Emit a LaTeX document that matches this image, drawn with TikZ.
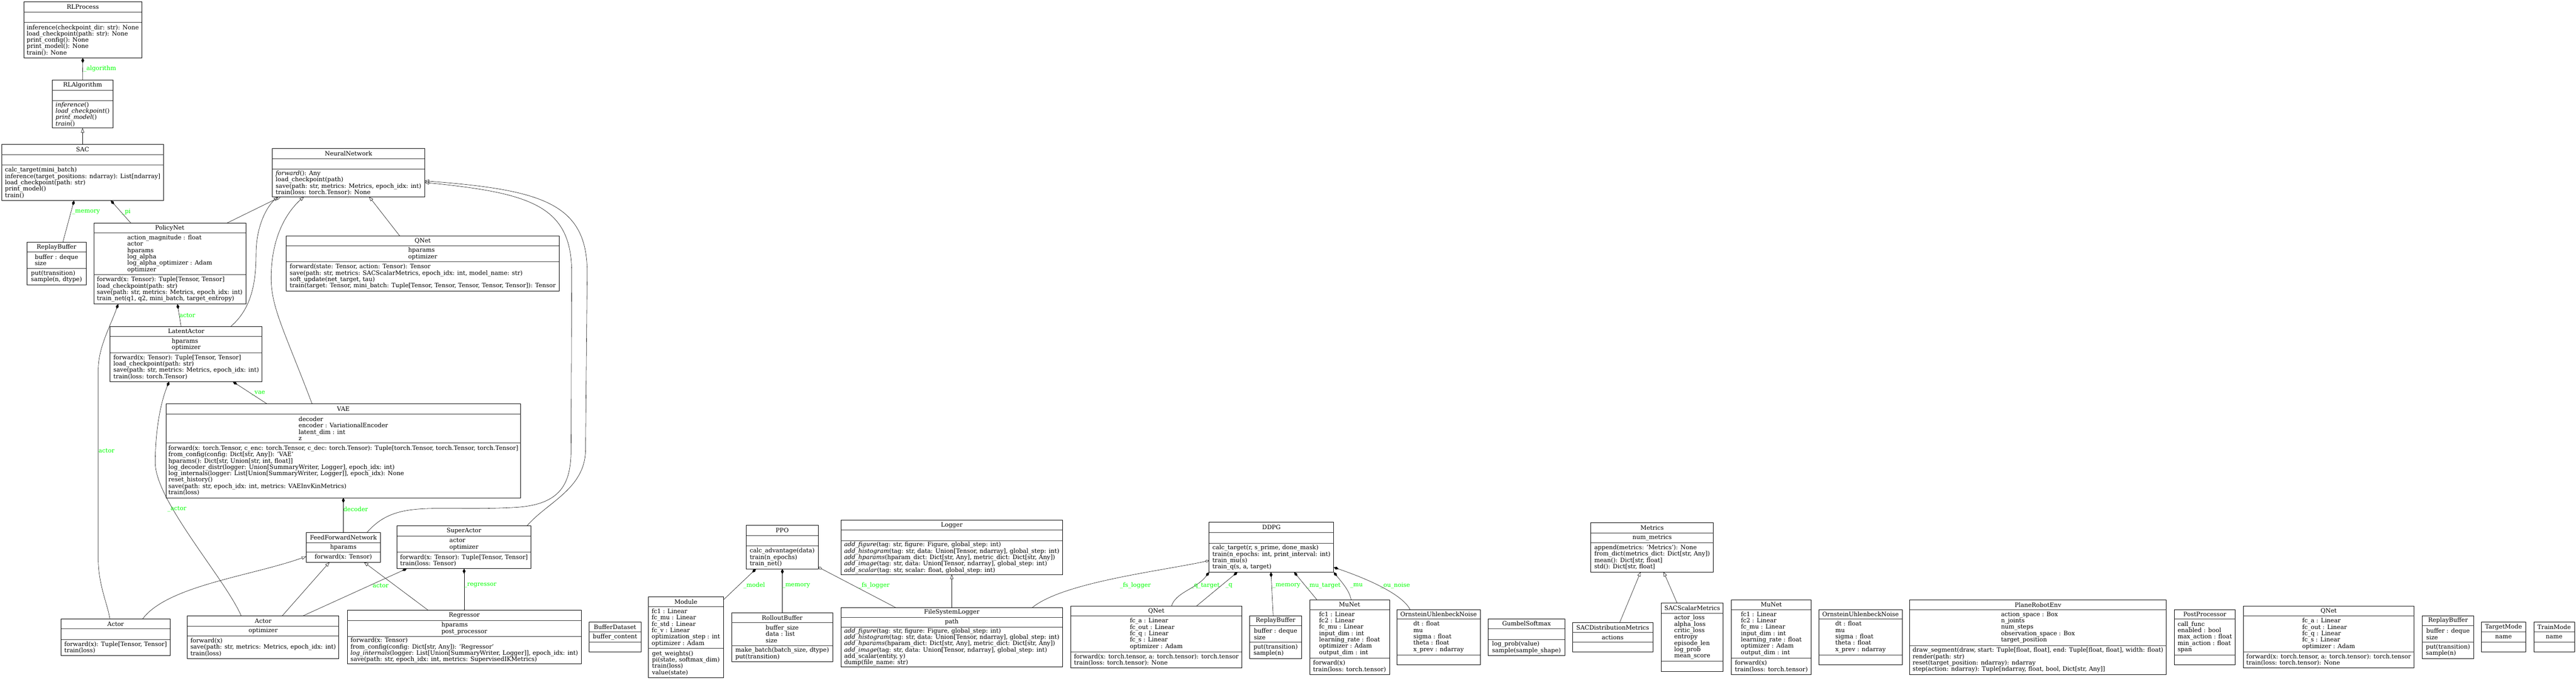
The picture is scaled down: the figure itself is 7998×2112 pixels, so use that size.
\documentclass[tikz,border=0pt]{standalone}
\usepackage{fontspec}
\setmainfont{DejaVu Serif}
\usetikzlibrary{arrows.meta,calc}
\definecolor{labelgreen}{RGB}{0,255,0}
\newcommand\umlfont{\fontsize{18.6}{19.7}\selectfont}
\tikzset{
  classbox/.style={draw, line width=1.3pt, inner sep=0pt, outer sep=0pt},
  sepline/.style={line width=1.3pt, draw=black!80},
  titletext/.style={font=\umlfont, inner sep=0pt, align=center},
  membertext/.style={font=\umlfont, inner sep=0pt, align=left},
  conn/.style={line width=0.9pt},
  inherit/.style={conn, -{Triangle[open, width=10pt, length=14pt, line width=0.9pt]}},
  compose/.style={conn, {Diamond[width=9pt, length=16pt]}-},
  aggreg/.style={conn, {Diamond[open, width=8pt, length=14pt, line width=0.9pt]}-},
  elabel/.style={font=\umlfont, text=labelgreen, inner sep=0pt, anchor=west},
}
% name, x1, y1, x2, y2, title-bottom, attrs-bottom, title, attrs
\newcommand\umlbox[9]{%
  \pgfmathsetmacro\ux{(#2+#4)/2}%
  \pgfmathsetmacro\uy{(#3+#5)/2}%
  \pgfmathsetmacro\uw{#4-#2}%
  \pgfmathsetmacro\uh{#5-#3}%
  \node[classbox, minimum width=\uw pt, minimum height=\uh pt] (#1) at (\ux,\uy) {};
  \draw[sepline] (#2,#6) -- (#4,#6) (#2,#7) -- (#4,#7);
  \pgfmathsetmacro\ut{(#3+#6)/2}%
  \node[titletext] (#1-title) at (\ux,\ut) {#8};
  \pgfmathsetmacro\ua{(#6+#7)/2}%
  \node[membertext] (#1-attrs) at (\ux,\ua) {#9};
  \pgfmathsetmacro\um{(#7+#5)/2}%
  \coordinate (#1-m) at (\ux,\um);
}
\begin{document}
\begin{tikzpicture}[x=1pt, y=-1pt]
\path[fill=white] (0,0) rectangle (7998,2112);
\useasboundingbox (0,0) rectangle (7998,2112);

% ---------------- left cluster ----------------
\umlbox{rlprocess}{74}{6}{440}{180}{37}{70}{RLProcess}{}
\node[membertext] (rlprocess-methods) at (rlprocess-m) {inference(checkpoint\_dir: str): None\\load\_checkpoint(path: str): None\\print\_config(): None\\print\_model(): None\\train(): None};

\umlbox{rlalgorithm}{162}{249}{351}{398}{280}{313}{RLAlgorithm}{}
\node[membertext] (rlalgorithm-methods) at (rlalgorithm-m) {\textit{inference}()\\\textit{load\_checkpoint}()\\\textit{print\_model}()\\\textit{train}()};

\umlbox{sac}{5}{449}{508}{623}{480}{513}{SAC}{}
\node[membertext] (sac-methods) at (sac-m) {calc\_target(mini\_batch)\\inference(target\_positions: ndarray): List[ndarray]\\load\_checkpoint(path: str)\\print\_model()\\train()};

\umlbox{rb1}{84}{753}{267}{885}{783}{834}{ReplayBuffer}{buffer : deque\\size}
\node[membertext] (rb1-methods) at (rb1-m) {put(transition)\\sample(n, dtype)};

\umlbox{policynet}{291}{693}{763}{945}{724}{854}{PolicyNet}{action\_magnitude : float\\actor\\hparams\\log\_alpha\\log\_alpha\_optimizer : Adam\\optimizer}
\node[membertext] (policynet-methods) at (policynet-m) {forward(x: Tensor): Tuple[Tensor, Tensor]\\load\_checkpoint(path: str)\\save(path: str, metrics: Metrics, epoch\_idx: int)\\train\_net(q1, q2, mini\_batch, target\_entropy)};

\umlbox{nn}{846}{462}{1318}{611}{493}{526}{NeuralNetwork}{}
\node[membertext] (nn-methods) at (nn-m) {\textit{forward}(): Any\\load\_checkpoint(path)\\save(path: str, metrics: Metrics, epoch\_idx: int)\\train(loss: torch.Tensor): None};

\umlbox{qnet1}{889}{733}{1736}{905}{763}{814}{QNet}{hparams\\optimizer}
\node[membertext] (qnet1-methods) at (qnet1-m) {forward(state: Tensor, action: Tensor): Tensor\\save(path: str, metrics: SACScalarMetrics, epoch\_idx: int, model\_name: str)\\soft\_update(net\_target, tau)\\train(target: Tensor, mini\_batch: Tuple[Tensor, Tensor, Tensor, Tensor, Tensor]): Tensor};

\umlbox{latentactor}{342}{1014}{814}{1186}{1045}{1096}{LatentActor}{hparams\\optimizer}
\node[membertext] (latentactor-methods) at (latentactor-m) {forward(x: Tensor): Tuple[Tensor, Tensor]\\load\_checkpoint(path: str)\\save(path: str, metrics: Metrics, epoch\_idx: int)\\train(loss: torch.Tensor)};

\umlbox{vae}{515}{1255}{1617}{1547}{1287}{1377}{VAE}{decoder\\encoder : VariationalEncoder\\latent\_dim : int\\z}
\node[membertext] (vae-methods) at (vae-m) {forward(x: torch.Tensor, c\_enc: torch.Tensor, c\_dec: torch.Tensor): Tuple[torch.Tensor, torch.Tensor, torch.Tensor]\\from\_config(config: Dict[str, Any]): 'VAE'\\hparams(): Dict[str, Union[str, int, float]]\\log\_decoder\_distr(logger: Union[SummaryWriter, Logger], epoch\_idx: int)\\log\_internals(logger: List[Union[SummaryWriter, Logger]], epoch\_idx): None\\reset\_history()\\save(path: str, epoch\_idx: int, metrics: VAEInvKinMetrics)\\train(loss)};

\umlbox{ffn}{951}{1655}{1181}{1747}{1686}{1716}{FeedForwardNetwork}{hparams}
\node[membertext] (ffn-methods) at (ffn-m) {forward(x: Tensor)};

\umlbox{superactor}{1233}{1634}{1648}{1767}{1666}{1716}{SuperActor}{actor\\optimizer}
\node[membertext] (superactor-methods) at (superactor-m) {forward(x: Tensor): Tuple[Tensor, Tensor]\\train(loss: Tensor)};

\umlbox{actorl}{190}{1923}{528}{2037}{1954}{1987}{Actor}{}
\node[membertext] (actorl-methods) at (actorl-m) {forward(x): Tuple[Tensor, Tensor]\\train(loss)};

\umlbox{actorm}{582}{1914}{1052}{2046}{1945}{1976}{Actor}{optimizer}
\node[membertext] (actorm-methods) at (actorm-m) {forward(x)\\save(path: str, metrics: Metrics, epoch\_idx: int)\\train(loss)};

\umlbox{regressor}{1078}{1896}{1805}{2063}{1928}{1978}{Regressor}{hparams\\post\_processor}
\node[membertext] (regressor-methods) at (regressor-m) {forward(x: Tensor)\\from\_config(config: Dict[str, Any]): 'Regressor'\\\textit{log\_internals}(logger: List[Union[SummaryWriter, Logger]], epoch\_idx: int)\\save(path: str, epoch\_idx: int, metrics: SupervisedIKMetrics)};

\umlbox{bufferdataset}{1829}{1933}{1990}{2026}{1964}{1996}{BufferDataset}{buffer\_content}
\node[membertext] (bufferdataset-methods) at (bufferdataset-m) {};

% ---------------- right part ----------------
\umlbox{ppo}{2317}{1633}{2540}{1768}{1664}{1697}{PPO}{}
\node[membertext] (ppo-methods) at (ppo-m) {calc\_advantage(data)\\train(n\_epochs)\\train\_net()};

\umlbox{logger}{2611}{1617}{3299}{1785}{1647}{1681}{Logger}{}
\node[membertext] (logger-methods) at (logger-m) {\textit{add\_figure}(tag: str, figure: Figure, global\_step: int)\\\textit{add\_histogram}(tag: str, data: Union[Tensor, ndarray], global\_step: int)\\\textit{add\_hparams}(hparam\_dict: Dict[str, Any], metric\_dict: Dict[str, Any])\\\textit{add\_image}(tag: str, data: Union[Tensor, ndarray], global\_step: int)\\\textit{add\_scalar}(tag: str, scalar: float, global\_step: int)};

\umlbox{ddpg}{3754}{1623}{4141}{1778}{1654}{1688}{DDPG}{}
\node[membertext] (ddpg-methods) at (ddpg-m) {calc\_target(r, s\_prime, done\_mask)\\train(n\_epochs: int, print\_interval: int)\\train\_mu(s)\\train\_q(s, a, target)};

\umlbox{module}{2013}{1854}{2246}{2106}{1885}{2015}{Module}{fc1 : Linear\\fc\_mu : Linear\\fc\_std : Linear\\fc\_v : Linear\\optimization\_step : int\\optimizer : Adam}
\node[membertext] (module-methods) at (module-m) {get\_weights()\\pi(state, softmax\_dim)\\train(loss)\\value(state)};

\umlbox{rolloutbuffer}{2272}{1904}{2585}{2056}{1934}{2006}{RolloutBuffer}{buffer\_size\\data : list\\size}
\node[membertext] (rolloutbuffer-methods) at (rolloutbuffer-m) {make\_batch(batch\_size, dtype)\\put(transition)};

\umlbox{fslogger}{2611}{1888}{3299}{2072}{1918}{1949}{FileSystemLogger}{path}
\node[membertext] (fslogger-methods) at (fslogger-m) {\textit{add\_figure}(tag: str, figure: Figure, global\_step: int)\\\textit{add\_histogram}(tag: str, data: Union[Tensor, ndarray], global\_step: int)\\\textit{add\_hparams}(hparam\_dict: Dict[str, Any], metric\_dict: Dict[str, Any])\\\textit{add\_image}(tag: str, data: Union[Tensor, ndarray], global\_step: int)\\add\_scalar(entity, y)\\dump(file\_name: str)};

\umlbox{qnet2}{3325}{1884}{3855}{2076}{1914}{2025}{QNet}{fc\_a : Linear\\fc\_out : Linear\\fc\_q : Linear\\fc\_s : Linear\\optimizer : Adam}
\node[membertext] (qnet2-methods) at (qnet2-m) {forward(x: torch.tensor, a: torch.tensor): torch.tensor\\train(loss: torch.tensor): None};

\umlbox{rb2}{3880}{1913}{4041}{2046}{1944}{1996}{ReplayBuffer}{buffer : deque\\size}
\node[membertext] (rb2-methods) at (rb2-m) {put(transition)\\sample(n)};

\umlbox{munet1}{4066}{1864}{4314}{2096}{1894}{2045}{MuNet}{fc1 : Linear\\fc2 : Linear\\fc\_mu : Linear\\input\_dim : int\\learning\_rate : float\\optimizer : Adam\\output\_dim : int}
\node[membertext] (munet1-methods) at (munet1-m) {forward(x)\\train(loss: torch.tensor)};

\umlbox{ou1}{4337}{1894}{4596}{2066}{1924}{2035}{OrnsteinUhlenbeckNoise}{dt : float\\mu\\sigma : float\\theta : float\\x\_prev : ndarray}
\node[membertext] (ou1-methods) at (ou1-m) {};

\umlbox{gumbel}{4621}{1923}{4858}{2037}{1953}{1987}{GumbelSoftmax}{}
\node[membertext] (gumbel-methods) at (gumbel-m) {log\_prob(value)\\sample(sample\_shape)};

\umlbox{sdm}{4882}{1934}{5132}{2026}{1965}{1995}{SACDistributionMetrics}{actions}
\node[membertext] (sdm-methods) at (sdm-m) {};

\umlbox{metrics}{4939}{1625}{5320}{1777}{1656}{1686}{Metrics}{num\_metrics}
\node[membertext] (metrics-methods) at (metrics-m) {append(metrics: 'Metrics'): None\\from\_dict(metrics\_dict: Dict[str, Any])\\mean(): Dict[str, float]\\std(): Dict[str, float]};

\umlbox{ssm}{5158}{1874}{5350}{2086}{1905}{2055}{SACScalarMetrics}{actor\_loss\\alpha\_loss\\critic\_loss\\entropy\\episode\_len\\log\_prob\\mean\_score}
\node[membertext] (ssm-methods) at (ssm-m) {};

\umlbox{munet2}{5376}{1864}{5623}{2096}{1894}{2045}{MuNet}{fc1 : Linear\\fc2 : Linear\\fc\_mu : Linear\\input\_dim : int\\learning\_rate : float\\optimizer : Adam\\output\_dim : int}
\node[membertext] (munet2-methods) at (munet2-m) {forward(x)\\train(loss: torch.tensor)};

\umlbox{ou2}{5647}{1894}{5906}{2066}{1924}{2035}{OrnsteinUhlenbeckNoise}{dt : float\\mu\\sigma : float\\theta : float\\x\_prev : ndarray}
\node[membertext] (ou2-methods) at (ou2-m) {};

\umlbox{planerobotenv}{5929}{1864}{6726}{2096}{1894}{2006}{PlaneRobotEnv}{action\_space : Box\\n\_joints\\num\_steps\\observation\_space : Box\\target\_position}
\node[membertext] (planerobotenv-methods) at (planerobotenv-m) {draw\_segment(draw, start: Tuple[float, float], end: Tuple[float, float], width: float)\\render(path: str)\\reset(target\_position: ndarray): ndarray\\step(action: ndarray): Tuple[ndarray, float, bool, Dict[str, Any]]};

\umlbox{postprocessor}{6751}{1894}{6940}{2066}{1924}{2035}{PostProcessor}{call\_func\\enabled : bool\\max\_action : float\\min\_action : float\\span}
\node[membertext] (postprocessor-methods) at (postprocessor-m) {};

\umlbox{qnet3}{6965}{1884}{7495}{2076}{1914}{2025}{QNet}{fc\_a : Linear\\fc\_out : Linear\\fc\_q : Linear\\fc\_s : Linear\\optimizer : Adam}
\node[membertext] (qnet3-methods) at (qnet3-m) {forward(x: torch.tensor, a: torch.tensor): torch.tensor\\train(loss: torch.tensor): None};

\umlbox{rb3}{7520}{1913}{7681}{2046}{1944}{1996}{ReplayBuffer}{buffer : deque\\size}
\node[membertext] (rb3-methods) at (rb3-m) {put(transition)\\sample(n)};

\umlbox{targetmode}{7705}{1933}{7841}{2026}{1964}{1996}{TargetMode}{name}
\node[membertext] (targetmode-methods) at (targetmode-m) {};

\umlbox{trainmode}{7867}{1933}{7993}{2026}{1964}{1996}{TrainMode}{name}
\node[membertext] (trainmode-methods) at (trainmode-m) {};

% ---------------- connectors: left ----------------
\draw[compose] (rlprocess.south) -- (rlalgorithm.north);
\node[elabel] (l-algorithm) at (259,214) {\_algorithm};
\draw[inherit] (sac.north) -- (rlalgorithm.south);
\draw[compose] ([xshift=225pt]sac.south west) -- ([xshift=111pt]rb1.north west);
\node[elabel] (l-memory1) at (224,658) {\_memory};
\draw[compose] ([xshift=339pt]sac.south west) -- ([xshift=115pt]policynet.north west);
\node[elabel] (l-pi) at (378,658) {\_pi};
\draw[inherit] ([xshift=414pt]policynet.north west) -- ([xshift=26pt]nn.south west);
\draw[inherit] ([xshift=352pt]qnet1.north west) -- ([xshift=300pt]nn.south west);
\draw[inherit] ([xshift=375pt]latentactor.north west) .. controls (780,960) and (795,880) .. (795,790) .. controls (795,700) and (830,640) .. ([xshift=18pt]nn.south west);
\draw[inherit] ([xshift=454pt]vae.north west) .. controls (880,1020) and (838,950) .. (842,850) .. controls (846,720) and (900,650) .. ([xshift=98pt]nn.south west);
\draw[inherit] ([xshift=188pt]ffn.north west) .. controls (1230,1550) and (1340,1590) .. (1594,1577) .. controls (1745,1570) and (1772,1500) .. (1773,1400) -- (1775,850) .. controls (1776,640) and (1650,600) .. ([yshift=-105pt]nn.north east);
\draw[inherit] ([xshift=403pt]superactor.north west) .. controls (1700,1560) and (1815,1520) .. (1818,1400) -- (1823,850) .. controls (1825,630) and (1680,590) .. ([yshift=-100pt]nn.north east);
\draw[compose] ([xshift=260pt]policynet.south west) -- ([xshift=220pt]latentactor.north west);
\node[elabel] (l-actor1) at (557,980) {actor};
\draw[compose] ([xshift=76pt]policynet.south west) .. controls (340,1020) and (305,1080) .. (305,1150) -- (305,1740) .. controls (306,1820) and (335,1880) .. ([xshift=151pt]actorl.north west);
\node[elabel] (l-actor2) at (306,1401) {actor};
\draw[compose] ([xshift=381pt]latentactor.south west) -- ([xshift=314pt]vae.north west);
\node[elabel] (l-vae) at (781,1221) {\_vae};
\draw[compose] ([xshift=183pt]latentactor.south west) .. controls (495,1260) and (482,1350) .. (482,1440) .. controls (485,1560) and (700,1800) .. ([xshift=167pt]actorm.north west);
\node[elabel] (l-actor3) at (520,1582) {\_actor};
\draw[compose] ([xshift=551pt]vae.south west) -- ([xshift=115pt]ffn.north west);
\node[elabel] (l-decoder) at (1066,1582) {decoder};
\draw[inherit] ([xshift=253pt]actorl.north west) .. controls (520,1820) and (780,1790) .. ([yshift=-74pt]ffn.north west);
\draw[inherit] ([xshift=294pt]actorm.north west) -- ([xshift=72pt]ffn.south west);
\draw[inherit] ([xshift=251pt]regressor.north west) -- ([xshift=179pt]ffn.south west);
\draw[compose] ([xshift=30pt]superactor.south west) -- ([xshift=358pt]actorm.north west);
\node[elabel] (l-actor4) at (1157,1819) {actor};
\draw[compose] ([xshift=208pt]superactor.south west) -- ([xshift=363pt]regressor.north west);
\node[elabel] (l-regressor) at (1441,1819) {\_regressor};

% ---------------- connectors: right ----------------
\draw[compose] ([xshift=30pt]ppo.south west) -- ([yshift=-10pt]module.north east);
\node[elabel] (l-model) at (2308,1820) {\_model};
\draw[compose] ([xshift=112pt]ppo.south west) -- ([xshift=157pt]rolloutbuffer.north west);
\node[elabel] (l-memory2) at (2429,1820) {\_memory};
\draw[aggreg] ([yshift=6pt]ppo.south east) -- ([xshift=170pt]fslogger.north west);
\node[elabel] (l-fslogger1) at (2666,1820) {\_fs\_logger};
\draw[inherit] ([xshift=344pt]fslogger.north west) -- ([xshift=344pt]logger.south west);
\draw[aggreg] ([yshift=-119pt]ddpg.north west) .. controls (3600,1775) and (3300,1810) .. ([xshift=594pt]fslogger.north west);
\node[elabel] (l-fslogger2) at (3477,1820) {\_fs\_logger};
\draw[compose] (ddpg.south west) .. controls (3715,1830) and (3650,1840) .. ([xshift=312pt]qnet2.north west);
\node[elabel] (l-qtarget) at (3698,1820) {\_q\_target};
\draw[compose] ([xshift=88pt]ddpg.south west) -- ([xshift=389pt]qnet2.north west);
\node[elabel] (l-q) at (3805,1820) {\_q};
\draw[compose] ([xshift=192pt]ddpg.south west) -- ([xshift=73pt]rb2.north west);
\node[elabel] (l-memory3) at (3951,1820) {\_memory};
\draw[compose] ([xshift=264pt]ddpg.south west) -- ([xshift=23pt]munet1.north west);
\node[elabel] (l-mutarget) at (4056,1820) {\_mu\_target};
\draw[compose] (ddpg.south east) .. controls (4165,1808) and (4190,1835) .. ([xshift=129pt]munet1.north west);
\node[elabel] (l-mu) at (4192,1820) {\_mu};
\draw[compose] ([yshift=-140pt]ddpg.north east) .. controls (4220,1790) and (4350,1840) .. ([xshift=41pt]ou1.north west);
\node[elabel] (l-ounoise) at (4286,1820) {\_ou\_noise};
\draw[inherit] ([xshift=147pt]sdm.north west) -- ([xshift=155pt]metrics.south west);
\draw[inherit] ([xshift=49pt]ssm.north west) -- ([xshift=226pt]metrics.south west);
\end{tikzpicture}
\end{document}
